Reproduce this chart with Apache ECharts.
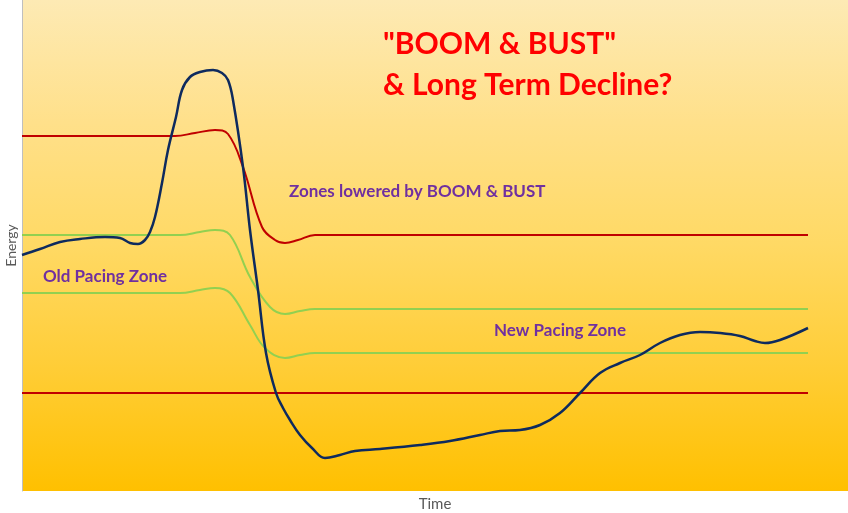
<!DOCTYPE html>
<html>
<head>
<meta charset="utf-8">
<script src="https://cdn.jsdelivr.net/npm/echarts@6/dist/echarts.min.js"></script>
<style>html,body{margin:0;padding:0;background:#fff}#c{width:848px;height:513px}</style>
</head>
<body>
<div id="c"></div>
<script>
// Time (x) and Energy (y) in arbitrary units
var blueT = [0,18,38,58,83,98,108,116,123,128,133,140,146,154,160,168,178,191,200,206,211,221,228,236,244,254,261,268,278,290,303,318,333,358,398,428,458,478,498,518,538,558,578,598,618,638,658,678,698,718,733,743,758,786];
var blueE = [236,242,249,252,254,253,248,247,251,259,274,308,341,374,401,414,419,421,418,411,391,324,261,201,138,98,83,71,56,43,33,36,40,42,46,50,56,60,61,66,78,98,118,128,136,148,156,159,158,155,150,148,151,163];

var redHighT = [0,153,173,193,206,221,240,253,263,276,293,786];
var redHighE = [355,355,358,361,357,324,264,251,248,251,256,256];

var greenHighT = [0,158,178,193,208,228,248,263,278,293,786];
var greenHighE = [256,256,259,261,256,214,184,177,180,182,182];

var greenLowT = [0,158,178,193,208,228,243,263,278,293,786];
var greenLowE = [198,198,201,203,198,166,143,133,136,138,138];

var redLowT = [0,786];
var redLowE = [98,98];

function pairs(t, e) { return t.map(function (v, i) { return [v, e[i]]; }); }

var chart = echarts.init(document.getElementById('c'));
var FONT = 'Lato';
function line(name, t, e, color, w) {
  return { name: name, type: 'line', data: pairs(t, e), smooth: 0.4, symbol: 'none',
           lineStyle: { color: color, width: w }, z: name === 'energy' ? 5 : 3 };
}
chart.setOption({
  animation: false,
  grid: { left: 22, top: 0, right: 0, bottom: 22, show: true, borderWidth: 0, outerBoundsMode: 'none', containLabel: false,
    backgroundColor: new echarts.graphic.LinearGradient(0, 0, 0, 1, [
      { offset: 0, color: '#FDEAB4' },
      { offset: 0.25, color: '#FFE08A' },
      { offset: 0.5, color: '#FFD964' },
      { offset: 0.75, color: '#FFCD36' },
      { offset: 1, color: '#FFC000' }
    ]) },
  xAxis: { type: 'value', min: 0, max: 826, name: 'Time', nameLocation: 'middle', nameGap: 6,
    nameTextStyle: { color: '#595959', fontSize: 15, fontFamily: FONT, verticalAlign: 'top' },
    axisLine: { show: false }, axisTick: { show: false }, axisLabel: { show: false }, splitLine: { show: false } },
  yAxis: { type: 'value', min: 0, max: 491, name: 'Energy', nameLocation: 'middle', nameGap: 4,
    nameTextStyle: { color: '#595959', fontSize: 14, fontFamily: FONT },
    axisLine: { show: true, lineStyle: { color: '#BFBFBF', width: 1 } }, axisTick: { show: false },
    axisLabel: { show: false }, splitLine: { show: false } },
  series: [
    line('redLow', redLowT, redLowE, '#C00000', 2),
    line('greenLow', greenLowT, greenLowE, '#92D050', 2),
    line('greenHigh', greenHighT, greenHighE, '#92D050', 2),
    line('redHigh', redHighT, redHighE, '#C00000', 2),
    line('energy', blueT, blueE, '#0E2A5E', 2.5)
  ],
  graphic: [
    { type: 'text', left: 383, top: 29, style: { text: '"BOOM & BUST"', fill: '#FF0000', font: 'bold 30px Lato' } },
    { type: 'text', left: 383, top: 70, style: { text: '& Long Term Decline?', fill: '#FF0000', font: 'bold 30px Lato' } },
    { type: 'text', left: 289, top: 183, style: { text: 'Zones lowered by BOOM & BUST', fill: '#7030A0', font: 'bold 17px Lato' } },
    { type: 'text', left: 43, top: 268, style: { text: 'Old Pacing Zone', fill: '#7030A0', font: 'bold 17px Lato' } },
    { type: 'text', left: 494, top: 322, style: { text: 'New Pacing Zone', fill: '#7030A0', font: 'bold 17px Lato' } }
  ]
});
</script>
</body>
</html>
